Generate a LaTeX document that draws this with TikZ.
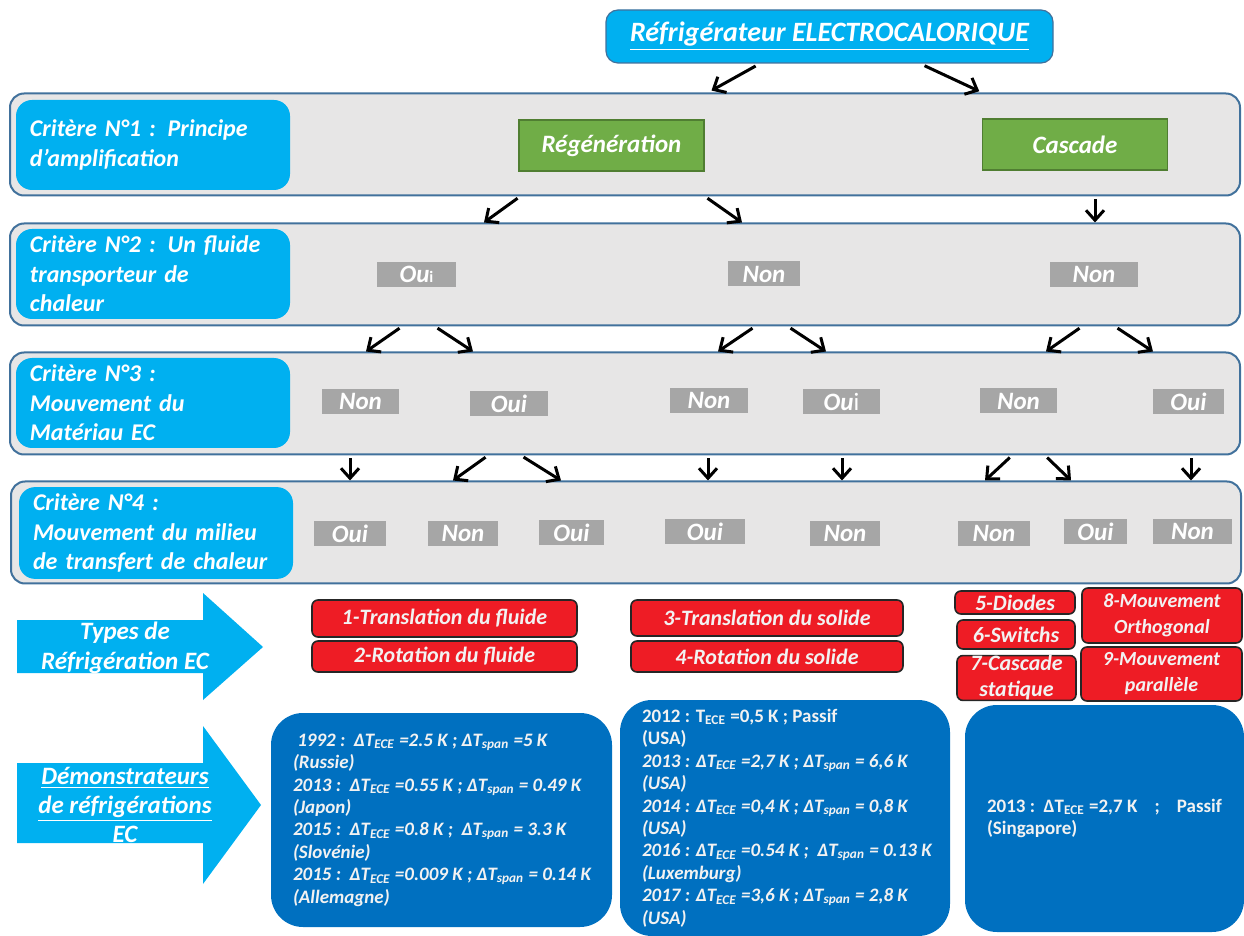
\documentclass[tikz,border=0pt]{standalone}
\usepackage{fontspec}
\setmainfont{Carlito}
\usetikzlibrary{arrows.meta,positioning}

\definecolor{ecblue}{HTML}{00B0F0}
\definecolor{ecdark}{HTML}{0070C0}
\definecolor{ecgreen}{HTML}{70AD47}
\definecolor{ecgreenline}{HTML}{507E32}
\definecolor{ecred}{HTML}{EE1C25}
\definecolor{ecpanel}{HTML}{E7E6E6}
\definecolor{ecline}{HTML}{41719C}
\definecolor{ecgray}{HTML}{A6A6A6}
\definecolor{ectext}{HTML}{F2F2F2}

\newcommand{\bigfont}{\fontsize{12.5}{14.7}\selectfont\bfseries\itshape}
\newcommand{\dT}[1]{ΔT\textsubscript{#1}}

\tikzset{
  panel/.style={draw=ecline, line width=1pt, fill=ecpanel, rounded corners=7pt,
    minimum width=615pt, minimum height=51pt, inner sep=0pt},
  crit/.style={fill=ecblue, rounded corners=8pt, text=white,
    font={\fontsize{12}{14.7}\selectfont\bfseries\itshape},
    align=left, text width=123pt, inner xsep=7pt, minimum height=45pt},
  titlebox/.style={fill=ecblue, draw=ecline, line width=0.6pt, rounded corners=6pt,
    text=white, font={\fontsize{14}{16}\selectfont\bfseries\itshape},
    minimum width=223.5pt, minimum height=26.5pt},
  choice/.style={fill=ecgreen, draw=ecgreenline, line width=0.8pt, text=white,
    font=\bigfont, minimum width=92.5pt, minimum height=25.5pt, inner sep=0pt},
  ans/.style={fill=ecgray, text=white, font=\bigfont, minimum height=12.5pt, inner sep=0pt},
  kind/.style={fill=ecred, draw=black!85, line width=0.8pt, rounded corners=3pt,
    text=ectext, font={\fontsize{11}{13}\selectfont\bfseries\itshape}, align=center, inner sep=0pt},
  kindsmall/.style={kind, font={\fontsize{10}{13}\selectfont\bfseries\itshape}},
  demo/.style={fill=ecdark, rounded corners=16pt, inner sep=0pt},
  demotxt/.style={text=ectext, font={\fontsize{9.5}{11.2}\selectfont\bfseries},
    align=left, inner sep=0pt},
  demoit/.style={demotxt, font={\fontsize{9.5}{11.2}\selectfont\bfseries\itshape}},
  arrowtxt/.style={text=white, font=\bigfont, align=center},
  arr/.style={-{Straight Barb[length=5pt,width=9pt]}, line width=1.5pt, shorten <=1.5pt}
}

\begin{document}
\begin{tikzpicture}[x=0.5pt, y=-0.5pt]
\useasboundingbox (0,0) rectangle (1244,936);

\node[titlebox] (title) at (829.5,36.5) {\underline{Réfrigérateur ELECTROCALORIQUE}};

% the four criteria
\node[panel] (p1) at (625,144.5) {};
\node[panel] (p2) at (625,274.5) {};
\node[panel] (p3) at (625,403.5) {};
\node[panel] (p4) at (626,532.5) {};
\node[crit] (c1) at (153,145) {Critère N°1 : Principe\\d’amplification};
\node[crit] (c2) at (153,274) {Critère N°2 : Un fluide\\transporteur de\\chaleur};
\node[crit] (c3) at (153,403) {Critère N°3 :\\Mouvement du\\Matériau EC};
\node[crit] (c4) at (156,533) {Critère N°4 :\\Mouvement du milieu\\de transfert de chaleur};

\node[choice] (regen) at (611.5,145.5) {Régénération};
\node[choice] (casc) at (1075,144.5) {Cascade};

\foreach \n/\x/\y/\w/\t in {
    a21/416.5/274.5/39.5/{Ou{\upshape\footnotesize i}}, a22/764/274/36/Non, a23/1094/274.5/44/Non,
    a31/360.5/401.5/38.5/Non, a32/509/403.5/39/Oui, a33/709/400.5/39/Non,
    a34/841.5/401.5/38.5/{Ou{\upshape\mdseries i}}, a35/1018.5/401/38.5/Non, a36/1188.5/401.5/35.5/Oui,
    a41/350/533.5/36/Oui, a42/463/533.5/35/Non, a43/571.5/533/32.5/Oui, a44/705/531.5/40/Oui,
    a45/845/533.5/35/Non, a46/994/533.5/36/Non, a47/1095.5/531.5/31.5/Oui, a48/1192.5/531.5/39.5/Non}
  \node[ans, minimum width=\w pt] (\n) at (\x,\y) {\t};

% arrows between the rows
\draw[arr, shorten <=2.5pt, shorten >=2pt] (title.south -| 760,0) -- (p1.north -| 708,0);
\draw[arr, shorten <=2.5pt, shorten >=1.5pt] (title.south -| 920,0) -- (p1.north -| 982,0);
\foreach \a/\b in {520/484, 705/742, 1095/1095}
  \draw[arr] (p1.south -| \a,0) -- (p2.north -| \b,0);
\foreach \a/\b in {402/366, 435/473, 755/718, 788/826, 1082/1046, 1115/1153}
  \draw[arr] (p2.south -| \a,0) -- (p3.north -| \b,0);
\foreach \a/\b in {350/350, 488/453, 521/561, 708/708, 842/842, 1012/985, 1045/1071, 1191/1191}
  \draw[arr] (p3.south -| \a,0) -- (p4.north -| \b,0);

% types of refrigeration
\fill[ecblue] (17,620) -- (203,620) -- (203,593) -- (263,647) -- (203,700) -- (203,673) -- (17,673) -- cycle;
\node[arrowtxt] (types) at (125,648) {Types de\\Réfrigération EC};

\node[kind, minimum width=132.5pt, minimum height=18.5pt] (k1) at (444.5,618.5) {1-Translation du fluide};
\node[kind, minimum width=132.5pt, minimum height=15.5pt] (k2) at (444.5,656.5) {2-Rotation du fluide};
\node[kind, minimum width=136pt, minimum height=18pt] (k3) at (767,618) {3-Translation du solide};
\node[kind, minimum width=136pt, minimum height=15.5pt] (k4) at (767,656.5) {4-Rotation du solide};
\node[kind, minimum width=60pt, minimum height=11.5pt] (k5) at (1015,602.5) {5-Diodes};
\node[kind, minimum width=59pt, minimum height=14.5pt] (k6) at (1016,634.5) {6-Switchs};
\node[kind, minimum width=59.5pt, minimum height=22pt] (k7) at (1016.5,678) {7-Cascade\\statique};
\node[kindsmall, minimum width=80pt, minimum height=27.5pt] (k8) at (1162,615.5) {8-Mouvement\\Orthogonal};
\node[kindsmall, minimum width=80.5pt, minimum height=27pt] (k9) at (1161.5,674) {9-Mouvement\\parallèle};

% demonstrators
\fill[ecblue] (17,763) -- (203,763) -- (203,726) -- (261,805) -- (203,884) -- (203,843) -- (17,843) -- cycle;
\node[arrowtxt] (demos) at (125,805) {\underline{Démonstrateurs}\\\underline{de réfrigérations}\\EC};

\node[demo, minimum width=170.5pt, minimum height=107pt] (d1) at (441.5,820) {};
\node[demo, minimum width=165pt, minimum height=118pt] (d2) at (785,818) {};
\node[demo, minimum width=139.5pt, minimum height=113.5pt] (d3) at (1104.5,818.5) {};

\node[demoit, right=11pt of d1.west] (d1txt) {
  \ 1992 :\ \ \dT{ECE} =2.5 K ; \dT{span} =5 K\\
  (Russie)\\
  2013 :\ \ \dT{ECE} =0.55 K ; \dT{span} = 0.49 K\\
  (Japon)\\
  2015 :\ \ \dT{ECE} =0.8 K ;\ \ \dT{span} = 3.3 K\\
  (Slovénie)\\
  2015 :\ \ \dT{ECE} =0.009 K ; \dT{span} = 0.14 K\\
  (Allemagne)};
\node[demoit, right=11pt of d2.west] (d2txt) {
  \upshape 2012 : T\textsubscript{ECE} =0,5 K ; Passif\\
  \upshape (USA)\\
  2013 : \dT{ECE} =2,7 K ; \dT{span} = 6,6 K\\
  (USA)\\
  2014 : \dT{ECE} =0,4 K ; \dT{span} = 0,8 K\\
  (USA)\\
  2016 : \dT{ECE} =0.54 K ;\ \ \dT{span} = 0.13 K\\
  (Luxemburg)\\
  2017 : \dT{ECE} =3,6 K ; \dT{span} = 2,8 K\\
  (USA)};
\node[demotxt, right=11pt of d3.west] (d3txt) {
  2013 :\ \ \dT{ECE} =2,7 K\hspace{0.9em};\hspace{0.9em}Passif\\
  (Singapore)};
\end{tikzpicture}
\end{document}
